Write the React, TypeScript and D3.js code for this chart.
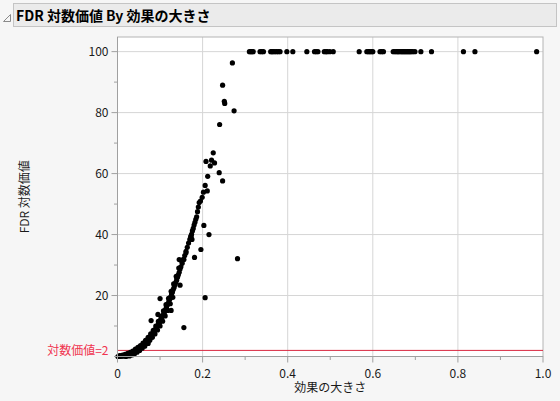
import React from "react";
import * as d3 from "d3";

const W = 560;
const H = 401;

const titleText = "FDR 対数価値 By 効果の大きさ";
const xLabel = "効果の大きさ";
const yLabel = "FDR 対数価値";
const refLabel = "対数価値=2";
const refValue = 2;

const xTicks = [0, 0.2, 0.4, 0.6, 0.8, 1.0];
const xTickLabels = ["0", "0.2", "0.4", "0.6", "0.8", "1.0"];
const xMinor = [0.1, 0.3, 0.5, 0.7, 0.9];
const yTicks = [20, 40, 60, 80, 100];
const yTickLabels = ["20", "40", "60", "80", "100"];
const yMinor = [0, 10, 30, 50, 70, 90];

// main dense band (effect size, FDR log-worth)
const bandX = [0.001,0.004,0.007,0.010,0.013,0.016,0.019,0.021,0.023,0.025,0.027,0.029,0.031,0.033,0.035,0.037,0.039,0.041,0.043,0.045,0.047,0.049,0.051,0.053,0.055,0.057,0.059,0.061,0.063,0.065,0.067,0.069,0.071,0.073,0.075,0.077,0.079,0.081,0.083,0.085,0.087,0.089,0.091,0.093,0.095,0.097,0.099,0.101,0.103,0.105,0.107,0.109,0.111,0.113,0.115,0.117,0.119,0.121,0.123,0.125,0.127,0.129,0.131,0.133,0.135,0.137,0.139,0.141,0.143,0.145,0.147,0.149,0.152,0.155,0.158,0.161,0.164,0.167,0.170,0.172,0.174,0.176,0.178,0.180,0.182,0.184,0.186,0.188,0.190,0.192,0.195];
const bandY = [0.0,0.0,0.1,0.1,0.2,0.2,0.3,0.4,0.5,0.5,0.6,0.8,0.9,1.0,1.1,1.3,1.4,1.6,1.9,2.0,2.2,2.5,2.6,2.9,3.2,3.3,3.7,3.9,4.1,4.5,4.7,5.0,5.4,5.7,6.1,6.4,6.8,7.1,7.7,8.0,8.5,8.8,9.4,9.9,10.3,10.9,11.3,11.9,12.4,13.1,13.5,14.2,14.8,15.4,16.1,16.9,17.4,18.3,18.9,19.6,20.5,21.1,22.0,22.6,23.5,24.3,25.0,26.0,26.8,27.6,28.7,29.4,30.6,31.9,33.1,34.5,35.8,37.2,38.4,39.3,40.1,41.2,42.0,43.1,44.0,45.0,45.8,47.5,49.0,50.5,51.0];

// upper edge of the band
const upperX = [0.005,0.012,0.018,0.024,0.030,0.036,0.042,0.048,0.054,0.060,0.066,0.072,0.078,0.084,0.090,0.096,0.102,0.108,0.114,0.120,0.126,0.132,0.138,0.144,0.150,0.173,0.175];
const upperY = [0.3,0.5,0.7,1.0,1.4,1.8,2.4,3.0,3.6,4.4,5.3,6.3,7.4,8.6,10.0,11.5,13.2,15.0,17.0,19.1,21.4,23.8,26.3,29.0,31.5,39.4,38.4];

// lower edge of the band
const lowerX = [0.020,0.028,0.034,0.040,0.046,0.052,0.058,0.064,0.070,0.076,0.082,0.088,0.094,0.100,0.106,0.112,0.118,0.124,0.130];
const lowerY = [0.0,0.2,0.5,0.9,1.4,2.0,2.7,3.4,4.3,5.3,6.3,7.4,8.7,10.0,11.6,13.3,15.1,17.3,19.4];

// scattered points
const scatterX = [0.072,0.079,0.095,0.100,0.126,0.156,0.206,0.147,0.139,0.145,0.156,0.161,0.181,0.196,0.203,0.215,0.282,0.199,0.202,0.206,0.211,0.212,0.218,0.208,0.221,0.228,0.225,0.239,0.247,0.240,0.251,0.252,0.247,0.274,0.270];
const scatterY = [4.3,11.8,13.8,19.0,15.1,9.5,19.3,23.4,25.9,31.8,31.8,34.0,32.5,35.1,43.0,40.0,32.1,52.2,53.9,56.1,54.3,59.1,62.5,64.0,64.4,63.5,66.8,60.3,57.6,76.1,83.7,83.0,89.0,80.6,96.3];

// capped points at 100
const capX = [0.310,0.313,0.316,0.319,0.335,0.339,0.343,0.360,0.363,0.366,0.370,0.374,0.378,0.382,0.398,0.412,0.445,0.463,0.467,0.471,0.486,0.490,0.493,0.499,0.507,0.568,0.586,0.590,0.593,0.597,0.600,0.617,0.621,0.625,0.648,0.652,0.656,0.659,0.662,0.666,0.669,0.672,0.675,0.678,0.681,0.684,0.687,0.690,0.694,0.699,0.713,0.738,0.813,0.840,0.985];
const capY = capX.map(() => 100);

const allX = [...bandX, ...upperX, ...lowerX, ...scatterX, ...capX];
const allY = [...bandY, ...upperY, ...lowerY, ...scatterY, ...capY];

const FONT = "'Noto Sans CJK JP', 'DejaVu Sans', sans-serif";

export default function App() {
  const left = 117.5;
  const right = 543;
  const top = 37;
  const bottom = 356.5;

  const x = d3.scaleLinear().domain([0, 1]).range([left, right]);
  const y = d3.scaleLinear().domain([0, 104.8]).range([bottom, top]);

  const points = allX.map((v, i) => ({ x: v, y: allY[i] }));

  return (
    <svg
      width={W}
      height={H}
      style={{ position: "absolute", left: 0, top: 0, background: "#f6f6f6" }}
      fontFamily={FONT}
    >
      <rect x={0} y={0} width={W} height={H} fill="#f6f6f6" />
      {/* title bar */}
      <rect x={13.5} y={3.5} width={543} height={23} fill="#ebebeb" stroke="#c4c4c4" />
      <path d="M3.5,21.5 L10.5,21.5 L10.5,14.5 Z" fill="none" stroke="#8a8a8a" />
      <text x={16} y={20.5} fontSize={14} fontWeight="bold" fill="#000">
        {titleText}
      </text>

      {/* plot area */}
      <rect x={left} y={top} width={right - left} height={bottom - top} fill="#fff" />
      {xTicks.slice(1, -1).map((t) => (
        <line key={"gx" + t} x1={x(t)} x2={x(t)} y1={top} y2={bottom} stroke="#d6d6d6" />
      ))}
      {yTicks.map((t) => (
        <line key={"gy" + t} x1={left} x2={right} y1={y(t)} y2={y(t)} stroke="#d6d6d6" />
      ))}
      <rect x={left} y={top} width={right - left} height={bottom - top} fill="none" stroke="#b4b4b4" />
      {/* reference line */}
      <line x1={left} x2={right} y1={y(refValue)} y2={y(refValue)} stroke="#d8273f" strokeWidth={1} />

      {/* points */}
      {points.map((p, i) => (
        <circle key={i} cx={x(p.x)} cy={y(p.y)} r={2.6} fill="#000" />
      ))}

      {/* axes lines */}
      <line x1={left} x2={left} y1={top} y2={bottom + 0.5} stroke="#a0a0a0" />
      <line x1={left} x2={right} y1={bottom} y2={bottom} stroke="#a0a0a0" />

      {/* y ticks */}
      {yTicks.map((t, i) => (
        <g key={"yt" + t}>
          <line x1={left - 6} x2={left} y1={y(t)} y2={y(t)} stroke="#a0a0a0" />
          <text x={left - 9} y={y(t)} dy="0.35em" textAnchor="end" fontSize={12} fill="#1a1a1a">
            {yTickLabels[i]}
          </text>
        </g>
      ))}
      {yMinor.map((t) => (
        <line key={"ym" + t} x1={left - 3.5} x2={left} y1={y(t)} y2={y(t)} stroke="#a0a0a0" />
      ))}

      {/* x ticks */}
      {xTicks.map((t, i) => (
        <g key={"xt" + t}>
          <line x1={x(t)} x2={x(t)} y1={bottom} y2={bottom + 6} stroke="#a0a0a0" />
          <text x={x(t)} y={bottom + 21} textAnchor="middle" fontSize={12} fill="#1a1a1a">
            {xTickLabels[i]}
          </text>
        </g>
      ))}
      {xMinor.map((t) => (
        <line key={"xm" + t} x1={x(t)} x2={x(t)} y1={bottom} y2={bottom + 3.5} stroke="#a0a0a0" />
      ))}

      {/* reference label */}
      <text x={left - 9} y={y(refValue)} dy="0.35em" textAnchor="end" fontSize={12} fill="#f0334f">
        {refLabel}
      </text>

      {/* axis titles */}
      <text x={(left + right) / 2} y={392} textAnchor="middle" fontSize={12} fill="#1a1a1a">
        {xLabel}
      </text>
      <text
        transform={`translate(29, ${(top + bottom) / 2}) rotate(-90)`}
        textAnchor="middle"
        fontSize={12}
        fill="#1a1a1a"
      >
        {yLabel}
      </text>
    </svg>
  );
}
